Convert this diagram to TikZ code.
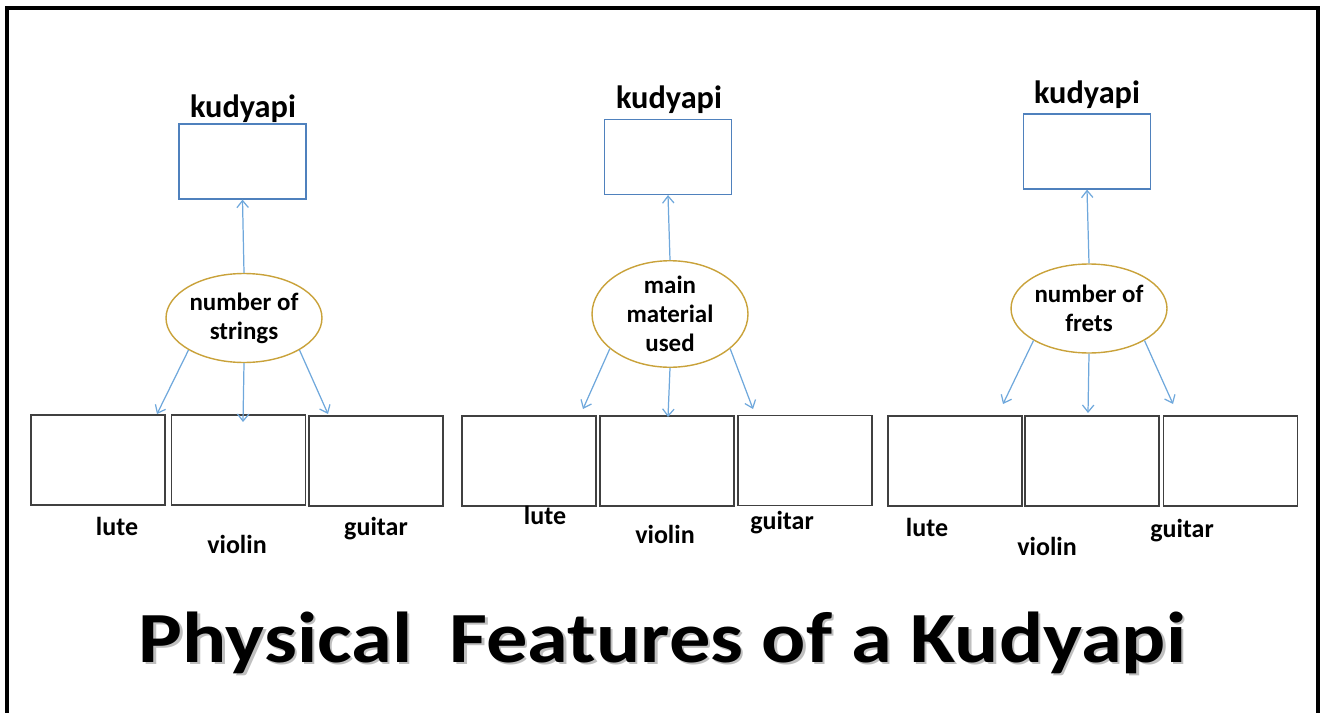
\documentclass[tikz,border=0pt]{standalone}
\usepackage{fontspec}
\setmainfont{Carlito}
\usetikzlibrary{shapes.geometric}
\usetikzlibrary{arrows.meta}
\usetikzlibrary{positioning}
\usepackage{xcolor}
\usepackage{graphicx}

\definecolor{boxblue}{HTML}{4F81BD}
\definecolor{arrowblue}{HTML}{6FA8DC}
\definecolor{ringgold}{HTML}{C9A23A}
\definecolor{boxgray}{HTML}{404040}

\newcommand{\titletext}{\scalebox{1.145}[1]{Physical\ \ Features of a Kudyapi}}

\tikzset{
  topbox/.style={draw=boxblue, line width=0.7pt, minimum width=2.54cm, minimum height=1.5cm, inner sep=0pt},
  feature/.style={ellipse, draw=ringgold, line width=0.8pt, minimum width=3.12cm, minimum height=1.78cm, inner sep=0pt, align=center, font=\fontsize{14.2}{16.4}\selectfont\bfseries},
  optbox/.style={draw=boxgray, line width=0.9pt, minimum width=2.68cm, minimum height=1.8cm, inner sep=0pt},
  optlabel/.style={anchor=base, inner sep=0pt, font=\fontsize{14.8}{17}\selectfont\bfseries},
  toplabel/.style={anchor=base, inner sep=0pt, font=\fontsize{18.4}{20}\selectfont\bfseries},
  link/.style={draw=arrowblue, line width=0.7pt, -{Straight Barb[length=4pt,width=6.5pt]}},
  titlefont/.style={anchor=base, inner sep=0pt, font=\fontsize{41}{45}\selectfont\bfseries},
}

\begin{document}
\begin{tikzpicture}[x=0.02cm, y=-0.02cm]
    \useasboundingbox (0,0) rectangle (1325,713);

    % frame
    \draw[line width=2.3pt] (7,713) -- (7,8) -- (1318,8) -- (1318,713);

    %nodes, first group
    \node[topbox] (kbox1) at (242.5,161.5) {};
    \node[toplabel] (klab1) at (243,117) {kudyapi};
    \node[feature] (feat1) at (244,318) {number of\\strings};
    \node[optbox] (lute1) at (98,460) {};
    \node[optbox] (violin1) at (238.5,460) {};
    \node[optbox] (guitar1) at (376,461) {};
    \node[optlabel] (lutelab1) at (117,535) {lute};
    \node[optlabel] (violinlab1) at (237,553) {violin};
    \node[optlabel] (guitarlab1) at (376,535) {guitar};

    %nodes, second group
    \node[topbox] (kbox2) at (668,157) {};
    \node[toplabel] (klab2) at (669,109) {kudyapi};
    \node[feature] (feat2) at (670,314) {main\\material\\used};
    \node[optbox] (lute2) at (529,461) {};
    \node[optbox] (violin2) at (667,461) {};
    \node[optbox] (guitar2) at (805,460.5) {};
    \node[optlabel] (lutelab2) at (545,524) {lute};
    \node[optlabel] (violinlab2) at (665,543) {violin};
    \node[optlabel] (guitarlab2) at (782,529) {guitar};

    %nodes, third group
    \node[topbox] (kbox3) at (1087,151.5) {};
    \node[toplabel] (klab3) at (1087,104) {kudyapi};
    \node[feature] (feat3) at (1089,308.5) {number of\\frets};
    \node[optbox] (lute3) at (955,461) {};
    \node[optbox] (violin3) at (1092,461) {};
    \node[optbox] (guitar3) at (1230.5,461) {};
    \node[optlabel] (lutelab3) at (927,536) {lute};
    \node[optlabel] (violinlab3) at (1047,555) {violin};
    \node[optlabel] (guitarlab3) at (1182,537) {guitar};

    % arrow ends
    \coordinate (end1a) at (157,414);
    \coordinate (end1b) at (243,422);
    \coordinate (end1c) at (328,414);
    \coordinate (end2a) at (583,409);
    \coordinate (end2b) at (668,417);
    \coordinate (end2c) at (753,409);
    \coordinate (end3a) at (1003,404);
    \coordinate (end3b) at (1088,413);
    \coordinate (end3c) at (1173,404);

    % edges
    \draw[link] (feat1.north) -- (kbox1.south);
    \draw[link] (feat1.210) -- (end1a);
    \draw[link] (feat1.south) -- (end1b);
    \draw[link] (feat1.330) -- (end1c);

    \draw[link] (feat2.north) -- (kbox2.south);
    \draw[link] (feat2.210) -- (end2a);
    \draw[link] (feat2.south) -- (end2b);
    \draw[link] (feat2.330) -- (end2c);

    \draw[link] (feat3.north) -- (kbox3.south);
    \draw[link] (feat3.210) -- (end3a);
    \draw[link] (feat3.south) -- (end3b);
    \draw[link] (feat3.330) -- (end3c);

    % title with shadow
    \node[titlefont, text=gray!50] (titleshadow) at (665,664.5) {\titletext};
    \node[titlefont] (title) at (662.5,662) {\titletext};
\end{tikzpicture}
\end{document}
